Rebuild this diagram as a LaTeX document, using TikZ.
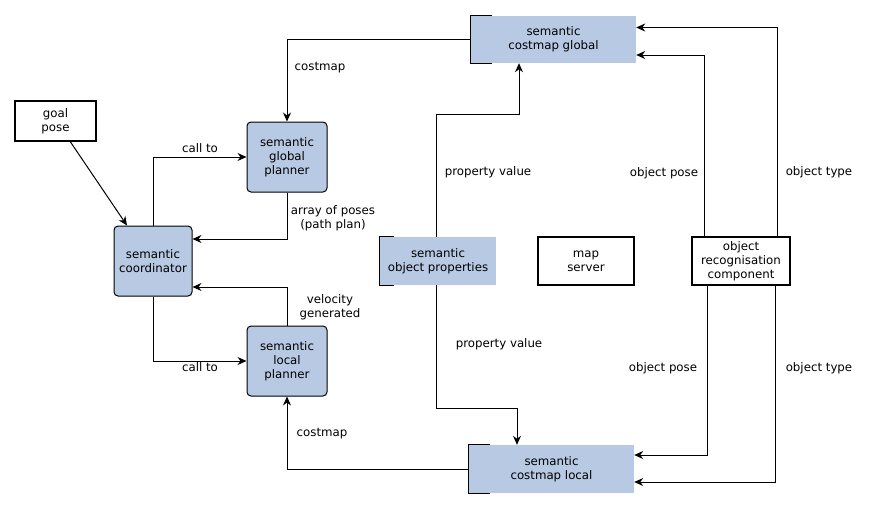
\documentclass[tikz,border=0pt]{standalone}
\usepackage{fontspec}
\setmainfont{DejaVu Sans}
\usetikzlibrary{arrows.meta}
\definecolor{semblue}{RGB}{184,201,227}
\tikzset{>={Stealth[length=9pt,width=8pt]}}
\tikzset{
    semnode/.style={draw, fill=semblue, rounded corners=4pt, line width=1pt, align=center, minimum width=80pt, minimum height=70pt, inner sep=1pt},
    iobox/.style={draw, fill=white, line width=2pt, align=center, inner sep=1pt},
    compbox/.style={fill=semblue, align=center, inner sep=1pt},
    lbl/.style={align=center, inner sep=0pt},
    link/.style={->, line width=1pt}
}

\begin{document}
\begin{tikzpicture}[x=1pt, y=-1pt, font=\fontsize{11.8}{14}\selectfont]
    \useasboundingbox (0,0) rectangle (875,509);
    % boxes
    \node[iobox, minimum width=81pt, minimum height=40pt] (goal) at (55.5,121) {goal\\pose};
    \node[semnode, minimum width=78pt] (coord) at (153,261) {semantic\\coordinator};
    \node[semnode] (gplan) at (287,157) {semantic\\global\\planner};
    \node[semnode] (lplan) at (287,361) {semantic\\local\\planner};
    \node[compbox, minimum width=165pt, minimum height=47pt] (cmglobal) at (553.5,39.5) {semantic\\costmap global};
    \node[compbox, minimum width=165pt, minimum height=48pt] (cmlocal) at (551.5,469) {semantic\\costmap local};
    \node[compbox, minimum width=116pt, minimum height=48pt] (objprop) at (438,261) {semantic\\object properties};
    \node[iobox, minimum width=96pt, minimum height=48pt] (mapsrv) at (586,261) {map\\server};
    \node[iobox, minimum width=98pt, minimum height=48pt] (objrec) at (741,261) {object\\recognisation\\component};
    \foreach \n/\w in {cmglobal/21, cmlocal/21, objprop/14}
        \draw[line width=1pt] ([xshift=\w pt]\n.north west) -- (\n.north west) -- (\n.south west) -- ([xshift=\w pt]\n.south west);
    % planner side
    \draw[link] (cmglobal.west) -| (gplan.north);
    \draw[link] ([xshift=15pt]goal.south) -- ([xshift=-26pt]coord.north);
    \draw[link] (coord.north) |- (gplan.west);
    \draw[link] (gplan.south) |- ([yshift=22pt]coord.east);
    \draw[link] (lplan.north) |- ([yshift=-26pt]coord.east);
    \draw[link] (coord.south) |- (lplan.west);
    \draw[link] (cmlocal.west) -| (lplan.south);
    % costmap side
    \draw[link] ([xshift=-2pt]objprop.north) -- ++(0,-122) -| ([xshift=-34.5pt]cmglobal.south);
    \draw[link] ([xshift=-2pt]objprop.south) -- ++(0,123) -| ([xshift=-34.5pt]cmlocal.north);
    \draw[link] ([xshift=-37pt]objrec.north) |- ([yshift=-15.5pt]cmglobal.east);
    \draw[link] ([xshift=36pt]objrec.north) |- ([yshift=12pt]cmglobal.east);
    \draw[link] ([xshift=-34pt]objrec.south) |- ([yshift=14pt]cmlocal.east);
    \draw[link] ([xshift=34pt]objrec.south) |- ([yshift=-13pt]cmlocal.east);
    % labels
    \node[lbl] (lcmglobal) at (320,68) {costmap};
    \node[lbl] (lcallg) at (200,148) {call to};
    \node[lbl] (lpath) at (333,218) {array of poses\\(path plan)};
    \node[lbl] (lvel) at (330,307) {velocity\\generated};
    \node[lbl] (lcalll) at (200,367) {call to};
    \node[lbl] (lcmlocal) at (322,434) {costmap};
    \node[lbl] (lpropg) at (488,172) {property value};
    \node[lbl] (lpropl) at (499,344) {property value};
    \node[lbl] (lposeg) at (664,173) {object pose};
    \node[lbl] (ltypeg) at (819,172) {object type};
    \node[lbl] (lposel) at (663,368) {object pose};
    \node[lbl] (ltypel) at (819,368) {object type};
\end{tikzpicture}
\end{document}
